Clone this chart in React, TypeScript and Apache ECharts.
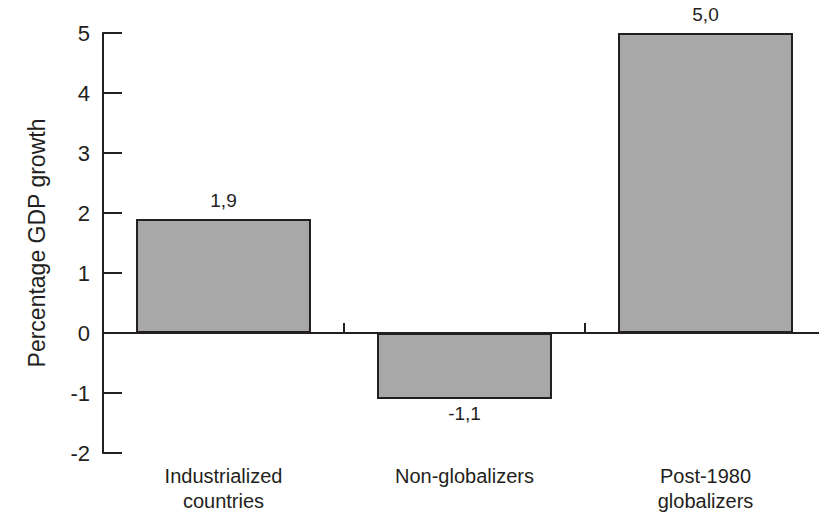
import React, { useEffect, useRef } from "react";
import * as echarts from "echarts";

const categories = ["Industrialized\ncountries", "Non-globalizers", "Post-1980\nglobalizers"];
const growth = [1.9, -1.1, 5.0];
const yTicks = { min: -2, max: 5, interval: 1 };

const FONT = "Liberation Sans, Arial, sans-serif";
const INK = "#231f20";

export default function App() {
  const ref = useRef<HTMLDivElement>(null);
  useEffect(() => {
    if (!ref.current) return;
    const chart = echarts.init(ref.current, null, { renderer: "svg" });
    chart.setOption({
      animation: false,
      backgroundColor: "#ffffff",
      grid: { left: 103, width: 723, top: 33, height: 420, containLabel: false, outerBoundsMode: "none" },
      xAxis: [
        {
          type: "category",
          data: categories,
          axisLine: { onZero: true, lineStyle: { color: INK, width: 2 } },
          axisTick: { show: true, inside: true, length: 10, lineStyle: { color: INK, width: 2 } },
          axisLabel: { show: false },
          splitLine: { show: false },
        },
        {
          type: "category",
          data: categories,
          position: "bottom",
          axisLine: { show: false, onZero: false },
          axisTick: { show: false },
          axisLabel: {
            show: true,
            color: INK,
            fontFamily: FONT,
            fontSize: 20,
            lineHeight: 25,
            margin: 10,
            verticalAlign: "top",
          },
          splitLine: { show: false },
        },
      ],
      yAxis: {
        type: "value",
        min: yTicks.min,
        max: yTicks.max,
        interval: yTicks.interval,
        name: "Percentage GDP growth",
        nameLocation: "middle",
        nameGap: 55,
        nameTextStyle: { color: INK, fontFamily: FONT, fontSize: 23 },
        axisLine: { show: true, lineStyle: { color: INK, width: 2 } },
        axisTick: { show: true, inside: true, length: 19, lineStyle: { color: INK, width: 2 } },
        axisLabel: { color: INK, fontFamily: FONT, fontSize: 22, margin: 13 },
        splitLine: { show: false },
      },
      series: [
        {
          type: "bar",
          xAxisIndex: 0,
          barWidth: "72.6%",
          data: growth.map((v) => ({
            value: v,
            label: v >= 0 ? { position: "top", distance: 9 } : { position: "bottom", distance: 5 },
          })),
          itemStyle: { color: "#a8a8a8", borderColor: INK, borderWidth: 2 },
          label: {
            show: true,
            color: INK,
            fontFamily: FONT,
            fontSize: 19,
            formatter: (p: any) => p.value.toFixed(1).replace(".", ","),
          },
        },
      ],
    });
    return () => chart.dispose();
  }, []);
  return <div ref={ref} style={{ width: 819, height: 515, position: "absolute", left: 0, top: 0 }} />;
}
